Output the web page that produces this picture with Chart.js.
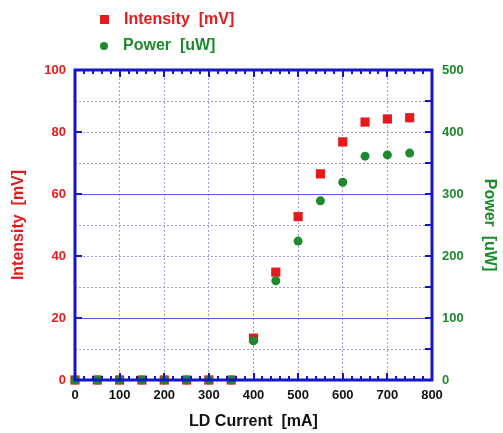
<!DOCTYPE html>
<html>
<head>
<meta charset="utf-8">
<script src="https://cdn.jsdelivr.net/npm/chart.js@4"></script>
<style>
  html, body { margin: 0; padding: 0; background: #fff; }
  #wrap { position: relative; width: 503px; height: 433px; }
  .leg { position: absolute; left: 96px; font: bold 16px "Liberation Sans", Arial, sans-serif; line-height: 20px; }
  .leg i { display: inline-block; vertical-align: middle; margin-right: 15px; }
</style>
</head>
<body>
<div id="wrap">
  <canvas id="myChart" width="503" height="433"></canvas>
  <div class="leg" style="top:9px;color:#e41a1c"><i style="width:9px;height:9px;background:#e41a1c;margin-left:4px"></i>Intensity&nbsp; [mV]</div>
  <div class="leg" style="top:35px;color:#1e8a2e"><i style="width:8px;height:8px;border-radius:50%;background:#1e8a2e;margin-left:4px"></i>Power&nbsp; [uW]</div>
</div>
<script>
// values
const current = [0, 50, 100, 150, 200, 250, 300, 350, 400, 450, 500, 550, 600, 650, 700, 750];
const intensity = [0, 0, 0, 0, 0, 0, 0, 0, 13.5, 34.8, 52.7, 66.5, 76.8, 83.2, 84.2, 84.6];
const power = [0, 0, 0, 0, 0, 0, 0, 0, 63, 160, 224, 289, 319, 361, 363, 366];

const red = '#e41a1c';
const green = '#1e8a2e';
const frameBlue = '#1414c8';
const font = 'Liberation Sans, Arial, sans-serif';

// frame with inward tick marks, like the original plot
const framePlugin = {
    id: 'frame',
    afterDatasetsDraw(chart) {
        const {ctx, chartArea: a, scales} = chart;
        ctx.save();
        ctx.strokeStyle = frameBlue;
        ctx.lineWidth = 2;
        ctx.beginPath();
        for (let v = 0; v <= 800; v += 20) {
            const x = Math.round(scales.x.getPixelForValue(v));
            const len = v % 100 === 0 ? 7 : 4;
            ctx.moveTo(x, a.bottom); ctx.lineTo(x, a.bottom - len);
            ctx.moveTo(x, a.top); ctx.lineTo(x, a.top + len);
        }
        for (let v = 20; v < 100; v += 20) {
            const y = Math.round(scales.y.getPixelForValue(v));
            ctx.moveTo(a.left, y); ctx.lineTo(a.left + 7, y);
        }
        for (let v = 50; v < 500; v += 50) {
            const y = Math.round(scales.y2.getPixelForValue(v));
            ctx.moveTo(a.right, y); ctx.lineTo(a.right - 7, y);
        }
        ctx.stroke();
        ctx.lineWidth = 3;
        ctx.strokeRect(a.left, a.top, a.right - a.left, a.bottom - a.top);
        ctx.restore();
    }
};

const ctx = document.getElementById('myChart').getContext('2d');
const myChart = new Chart(ctx, {
    type: 'scatter',
    data: {
        datasets: [
            {
                label: 'Power  [uW]',
                data: current.map((c, i) => ({x: c, y: power[i]})),
                yAxisID: 'y2',
                pointStyle: 'circle',
                pointRadius: 4.5,
                backgroundColor: green,
                borderColor: green,
                borderWidth: 0,
                clip: false,
                order: 0
            },
            {
                label: 'Intensity  [mV]',
                data: current.map((c, i) => ({x: c, y: intensity[i]})),
                yAxisID: 'y',
                pointStyle: 'rect',
                pointRadius: 6.5,
                backgroundColor: red,
                borderColor: red,
                borderWidth: 0,
                clip: false,
                order: 1
            }
        ]
    },
    options: {
        responsive: false,
        animation: false,
        layout: { padding: { top: 70, left: 0, right: 0, bottom: 0 } },
        scales: {
            x: {
                type: 'linear',
                min: 0,
                max: 800,
                afterFit: s => { s.height = 53; },
                ticks: { stepSize: 100, padding: 8, color: '#111', font: { family: font, size: 13, weight: 'bold' } },
                grid: { color: '#9c9cd4', lineWidth: 1, drawTicks: false },
                border: { display: false, dash: [2, 2] },
                title: { display: true, text: 'LD Current  [mA]', color: '#111', padding: { top: 0, bottom: 2 },
                         font: { family: font, size: 16, weight: 'bold' } }
            },
            y: {
                position: 'left',
                min: 0,
                max: 100,
                afterFit: s => { s.width = 75; },
                ticks: {
                    stepSize: 10, padding: 9, color: red,
                    font: { family: font, size: 13, weight: 'bold' },
                    callback: v => (v % 20 === 0 ? v : '')
                },
                grid: {
                    drawTicks: false,
                    lineWidth: 1,
                    color: c => (c.tick && (c.tick.value === 20 || c.tick.value === 60) ? 'rgba(0,0,0,0)' : '#9c9cd4')
                },
                border: { display: false, dash: [2, 2] },
                title: { display: true, text: 'Intensity  [mV]', color: red, padding: { top: 9, bottom: 0 },
                         font: { family: font, size: 16, weight: 'bold' } }
            },
            y2: {
                position: 'right',
                min: 0,
                max: 500,
                afterFit: s => { s.width = 71; },
                ticks: {
                    stepSize: 50, padding: 10, color: green,
                    font: { family: font, size: 13, weight: 'bold' },
                    callback: v => (v % 100 === 0 ? v : '')
                },
                grid: {
                    drawTicks: false,
                    lineWidth: 1,
                    color: c => (c.tick && (c.tick.value === 100 || c.tick.value === 300) ? '#5a5ad0' : 'rgba(0,0,0,0)')
                },
                border: { display: false },
                title: { display: true, text: 'Power  [uW]', color: green, padding: { top: 4, bottom: 0 },
                         font: { family: font, size: 16, weight: 'bold' } }
            }
        },
        plugins: {
            legend: { display: false },
            tooltip: { enabled: false }
        }
    },
    plugins: [framePlugin]
});
</script>
</body>
</html>
